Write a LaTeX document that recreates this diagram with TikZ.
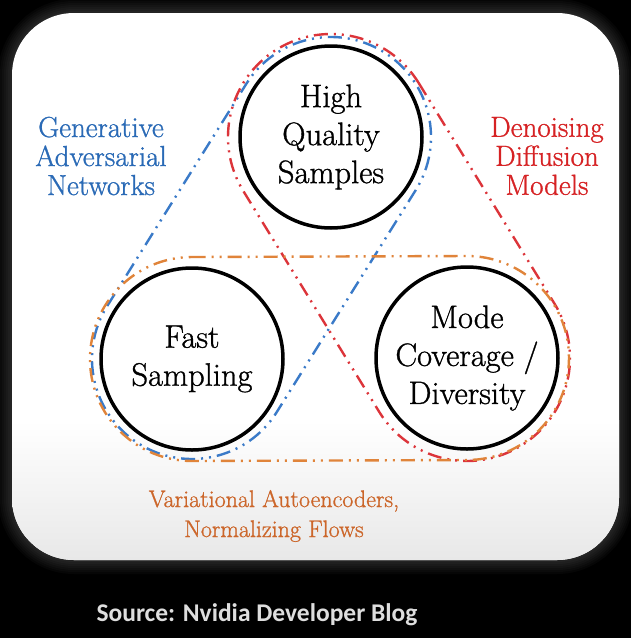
\documentclass[tikz,border=0pt]{standalone}
\usepackage{fontspec}
\newfontfamily\bodyserif{Latin Modern Roman}[FakeBold=1]
\newfontfamily\captionfont{Carlito}
\usetikzlibrary{calc}

\definecolor{ganline}{RGB}{58,122,200}
\definecolor{gantext}{RGB}{42,106,182}
\definecolor{ddmline}{RGB}{220,52,58}
\definecolor{ddmtext}{RGB}{214,34,36}
\definecolor{vaeline}{RGB}{224,132,58}
\definecolor{vaetext}{RGB}{204,102,42}
\definecolor{panelshade}{RGB}{232,232,232}
\definecolor{captiongray}{RGB}{222,222,222}

\tikzset{
  x=1pt, y=1pt,
  property/.style={circle, draw=black, line width=3.5pt, minimum size=182pt,
    inner sep=0pt, align=center, font=\bodyserif\fontsize{32.5}{38}\selectfont},
  familyline/.style={line width=2.4pt, line cap=butt,
    dash pattern=on 14pt off 6pt on 2pt off 6pt on 2pt off 6pt},
  familylabel/.style={align=center, inner sep=0pt},
}

% Dash-dot loop wrapped around two equal circles (stadium hull)
\newcommand\familyloop[4]{%
  \draw[familyline, #1] let \p1=($(#3)-(#2)$), \n1={atan2(\y1,\x1)} in
    ($(#2)+(\n1+90:#4)$) -- ($(#3)+(\n1+90:#4)$)
    arc[start angle=\n1+90, delta angle=-180, radius=#4]
    -- ($(#2)+(\n1-90:#4)$)
    arc[start angle=\n1-90, delta angle=-180, radius=#4] -- cycle;
}

\begin{document}
\begin{tikzpicture}
  \useasboundingbox (0,0) rectangle (631,-638);
  \fill[black] (0,0) rectangle (631,-638);

  % soft glow around the panel
  \foreach \w in {4,8,...,28}
    \draw[white, opacity=0.022, line width=\w pt, rounded corners=62pt]
      (12,-13) rectangle (619,-560);

  % white panel with a faint grey fade at the bottom
  \fill[white, rounded corners=62pt] (12,-13) rectangle (619,-560);
  \begin{scope}
    \clip[rounded corners=62pt] (12,-13) rectangle (619,-560);
    \shade[top color=white, bottom color=panelshade] (0,-420) rectangle (631,-560);
  \end{scope}

  % circle centres
  \coordinate (cq) at (331,-137);
  \coordinate (cf) at (192,-359);
  \coordinate (cm) at (467,-358);

  % model families
  \familyloop{ganline}{cq}{cf}{100pt}
  \familyloop{ddmline}{cq}{cm}{103pt}
  \familyloop{vaeline}{cf}{cm}{102pt}

  % desired properties
  \node[property] (hq) at (cq) {High\\Quality\\Samples};
  \node[property] (fs) at (cf) {Fast\\Sampling};
  \node[property] (md) at (cm) {Mode\\Coverage /\\Diversity};

  % family labels
  \node[familylabel, text=gantext, font=\bodyserif\fontsize{29}{29}\selectfont]
    (gan) at (101,-156) {Generative\\Adversarial\\Networks};
  \node[familylabel, text=ddmtext, font=\bodyserif\fontsize{29}{29}\selectfont]
    (ddm) at (547,-156) {Denoising\\Diffusion\\Models};
  \node[familylabel, text=vaetext, font=\bodyserif\fontsize{24}{30}\selectfont]
    (vae) at (274,-516) {Variational Autoencoders,\\Normalizing Flows};

  % caption
  \node[inner sep=0pt, text=captiongray, font=\captionfont\bfseries\fontsize{25.5}{30}\selectfont]
    (src) at (257,-615) {Source: Nvidia Developer Blog};
\end{tikzpicture}
\end{document}
